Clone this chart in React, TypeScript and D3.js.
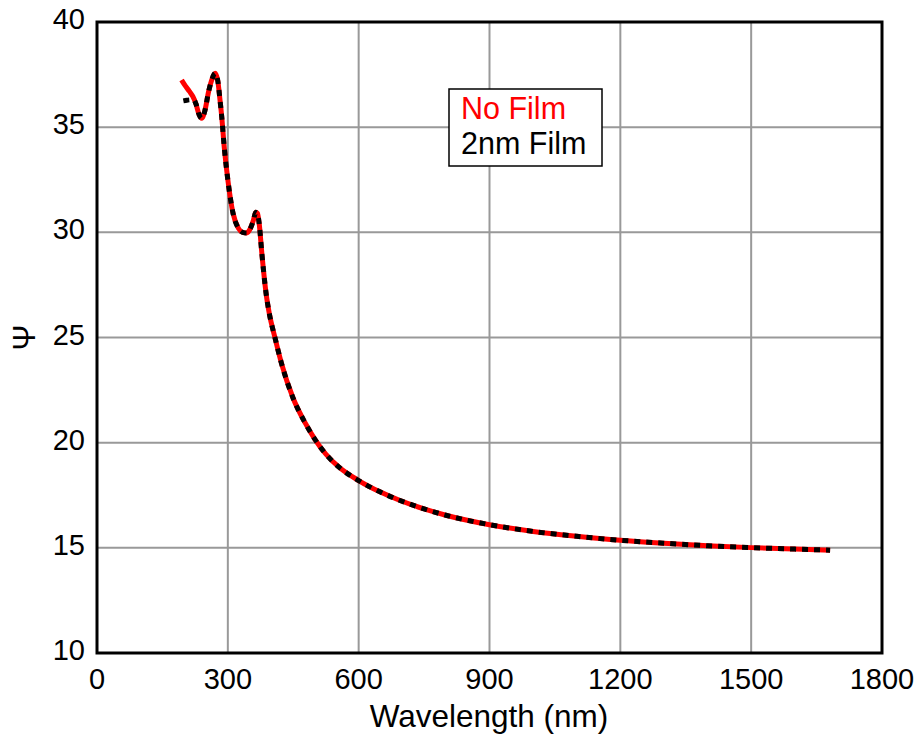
import React from "react";
import * as d3 from "d3";

const xTicks = [0, 300, 600, 900, 1200, 1500, 1800];
const yTicks = [10, 15, 20, 25, 30, 35, 40];

const noFilmWl = [194, 203, 212, 220, 227, 234, 240, 247, 256, 264, 271, 277, 282, 286, 292, 300, 312, 324, 334, 343, 352, 359, 364, 368, 372, 378, 388, 395, 408, 423, 450, 477, 500, 525, 557, 600, 650, 695, 750, 800, 900, 1000, 1100, 1200, 1300, 1400, 1500, 1600, 1681];
const noFilmPsi = [37.24, 36.95, 36.7, 36.45, 36.1, 35.6, 35.42, 35.75, 36.7, 37.3, 37.56, 37.2, 36.3, 35.5, 34.0, 32.5, 30.9, 30.2, 30.0, 29.97, 30.2, 30.6, 30.95, 30.9, 30.4, 29.0, 27.05, 26.15, 25.0, 23.77, 22.1, 20.95, 20.15, 19.45, 18.8, 18.2, 17.65, 17.25, 16.85, 16.55, 16.1, 15.78, 15.55, 15.36, 15.22, 15.1, 15.01, 14.94, 14.89];

const filmWl = [198, 206, 214, 222, 227, 234, 240, 247, 256, 264, 271, 277, 282, 286, 292, 300, 312, 324, 334, 343, 352, 359, 364, 368, 372, 378, 388, 395, 408, 423, 450, 477, 500, 525, 557, 600, 650, 695, 750, 800, 900, 1000, 1100, 1200, 1300, 1400, 1500, 1600, 1681];
const filmPsi = [36.25, 36.28, 36.3, 36.3, 36.1, 35.6, 35.42, 35.75, 36.7, 37.3, 37.56, 37.2, 36.3, 35.5, 34.0, 32.5, 30.9, 30.2, 30.0, 29.97, 30.2, 30.6, 30.95, 30.9, 30.4, 29.0, 27.05, 26.15, 25.0, 23.77, 22.1, 20.95, 20.15, 19.45, 18.8, 18.2, 17.65, 17.25, 16.85, 16.55, 16.1, 15.78, 15.55, 15.36, 15.22, 15.1, 15.01, 14.94, 14.89];

const legendLabels = ["No Film", "2nm Film"];

export default function App() {
  const W = 922, H = 735;
  const L = 97, T = 22, R = 882, B = 653;
  const x = d3.scaleLinear().domain([0, 1800]).range([L, R]);
  const y = d3.scaleLinear().domain([10, 40]).range([B, T]);
  const line = d3.line<[number, number]>().x(d => x(d[0])).y(d => y(d[1])).curve(d3.curveMonotoneX);
  const red = line(noFilmWl.map((w, i) => [w, noFilmPsi[i]]) as [number, number][]) || "";
  const blk = line(filmWl.map((w, i) => [w, filmPsi[i]]) as [number, number][]) || "";
  const font = "'Liberation Sans', Arial, sans-serif";
  return (
    <svg width={W} height={H} style={{ position: "absolute", left: 0, top: 0, background: "#fff" }} fontFamily={font}>
      <rect x={0} y={0} width={W} height={H} fill="#fff" />
      {xTicks.slice(1, -1).map(t => (
        <line key={"gx" + t} x1={x(t)} x2={x(t)} y1={T} y2={B} stroke="#999" strokeWidth={2} />
      ))}
      {yTicks.slice(1, -1).map(t => (
        <line key={"gy" + t} x1={L} x2={R} y1={y(t)} y2={y(t)} stroke="#999" strokeWidth={2} />
      ))}
      <path d={red} fill="none" stroke="#ff0000" strokeWidth={5} strokeLinejoin="round" />
      <path d={blk} fill="none" stroke="#000" strokeWidth={5} strokeDasharray="6,6" />
      <rect x={L} y={T} width={R - L} height={B - T} fill="none" stroke="#000" strokeWidth={3} />
      {xTicks.map(t => (
        <text key={"tx" + t} x={x(t)} y={689} textAnchor="middle" fontSize={29}>{t}</text>
      ))}
      {yTicks.map(t => (
        <text key={"ty" + t} x={85} y={y(t) + 7} textAnchor="end" fontSize={29}>{t}</text>
      ))}
      <text x={489} y={727} textAnchor="middle" fontSize={31.5}>Wavelength (nm)</text>
      <text transform={`translate(35, ${y(25)}) rotate(-90)`} textAnchor="middle" fontSize={31}>Ψ</text>
      <rect x={449} y={89} width={153} height={77} fill="#fff" stroke="#000" strokeWidth={1.5} />
      <text x={461} y={119} fontSize={30.5} fill="#ff0000">{legendLabels[0]}</text>
      <text x={461} y={154} fontSize={30.5} fill="#000">{legendLabels[1]}</text>
    </svg>
  );
}
